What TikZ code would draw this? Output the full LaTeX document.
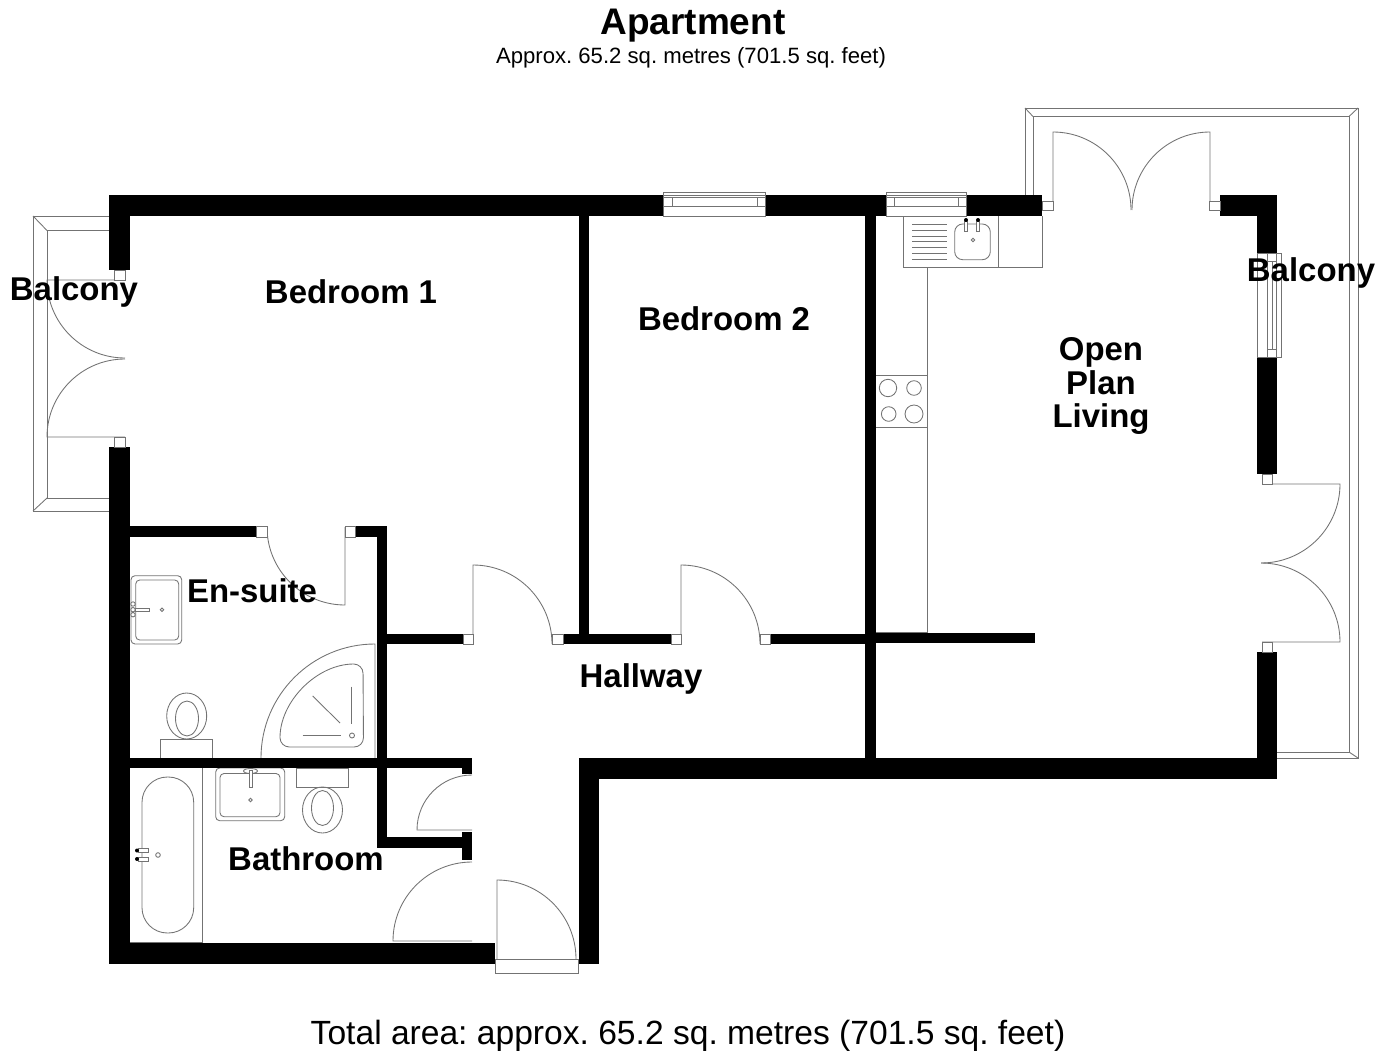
\documentclass[tikz,border=0pt]{standalone}
\usepackage{fontspec}
\setmainfont{Liberation Sans}
\tikzset{fpl/.style={
  x=0.75pt,
  y=-0.75pt
}}
\tikzset{wl/.style={
  fill=black
}}
\tikzset{fx/.style={
  draw=black!55,
  line width=0.65pt
}}
\tikzset{frm/.style={fx,fill=white}}
\tikzset{lbl/.style={
  font=\fontsize{24.7}{25}\bfseries\selectfont,
  align=center,
  inner sep=0pt
}}

\begin{document}
\frenchspacing
\begin{tikzpicture}[fpl]
    \useasboundingbox (0,0) rectangle (1378,1056);

    % Balconies
    \draw[fx] (109,216) -- (33,216) -- (33,511) -- (109,511);
    \draw[fx] (109,230.5) -- (47,230.5) -- (47,498) -- (109,498);
    \draw[fx] (33,216) -- (47,230.5) (33,511) -- (47,498);
    \draw[fx] (1025,195) -- (1025,108) -- (1358,108) -- (1358,758) -- (1277,758);
    \draw[fx] (1033,195) -- (1033,116.5) -- (1349,116.5) -- (1349,752) -- (1277,752);
    \draw[fx] (1025,108) -- (1033,116.5) (1358,108) -- (1349,116.5)
      (1358,758) -- (1349,752);

    % Door leaves and swings
    \draw[fx] (125,280) -- (47,280) arc (180:90:78);
    \draw[fx] (125,437) -- (47,437) arc (180:270:78);
    \draw[fx] (1053,210) -- (1053,132) arc (270:360:78);
    \draw[fx] (1210,210) -- (1210,132) arc (270:180:78);
    \draw[fx] (1262,484) -- (1340,484) arc (0:90:79);
    \draw[fx] (1262,642) -- (1340,642) arc (0:-90:79);
    \draw[fx] (473,640) -- (473,565) arc (270:360:79);
    \draw[fx] (681,640) -- (681,565) arc (270:360:79);
    \draw[fx] (345,527) -- (345,605) arc (90:180:78);
    \draw[fx] (472,830) -- (417,830) arc (180:270:55);
    \draw[fx] (472,941) -- (393,941) arc (180:270:79);
    \draw[fx] (497,959) -- (497,880) arc (270:360:79);

    % Kitchen units
    \draw[fx] (903,216) -- (903,267) -- (1042,267) -- (1042,216);
    \draw[fx] (998,216) -- (998,267);
    \draw[fx] (927,267) -- (927,632) -- (876,632);
    \draw[fx] (876,375) -- (927,375) (876,427) -- (927,427);
    \foreach \yy in {224,230,236,241.7,247.3,253.3,259.3}
      \draw[fx] (912,\yy) -- (946.7,\yy);
    \draw[fx,rounded corners=6pt] (954.7,224) rectangle (990.3,259.7);
    \draw[fx] (973,240) circle (1.7);
    \draw[frm] (964.5,221) rectangle (967.5,231);
    \draw[frm] (976.5,221) rectangle (979.5,231);
    \fill (966,220) circle (2) (978,220) circle (2);
    \draw[fx] (888,388) circle (8.7) (914,388) circle (7.3);
    \draw[fx] (888.7,414) circle (7.3) (914,414) circle (9);

    % Bathroom fittings
    \draw[fx] (130,942) -- (202.7,942) -- (202.7,768);
    \draw[fx,rounded corners=19pt] (142,777) rectangle (193.7,933);
    \draw[frm] (138,848.5) rectangle (148,852.5);
    \draw[frm] (138,857) rectangle (148,861);
    \fill (137,850.5) circle (2) (137,859) circle (2);
    \draw[fx] (158,855) circle (2.3);
    \draw[fx,rounded corners=3pt] (215.7,768) rectangle (284.7,820.7);
    \draw[fx,rounded corners=3pt] (220,773.5) rectangle (280,816.7);
    \draw[fx] (250.5,771) ellipse (7 and 2.5);
    \draw[frm] (249,770) rectangle (252.5,787);
    \draw[fx] (250.5,800) circle (1.7);
    \draw[fx] (296.7,768) rectangle (348.7,787.5);
    \draw[fx] (322.5,810) ellipse (20 and 23);
    \draw[fx] (322.5,808) ellipse (11 and 17.5);

    % En-suite fittings
    \draw[fx,rounded corners=3pt] (131,575.7) rectangle (181.7,644);
    \draw[fx,rounded corners=3pt] (135.7,580) rectangle (178.7,640);
    \draw[frm] (135,608) rectangle (149,611.5);
    \draw[frm] (133,604) circle (2.2) (133,609.7) circle (2.2) (133,614.7) circle (2.2);
    \draw[fx] (162,609.7) circle (1.7);
    \draw[fx] (160.7,739) rectangle (212.7,758);
    \draw[fx] (186.7,716) ellipse (20 and 23);
    \draw[fx] (187,718.5) ellipse (11.5 and 17.5);
    \draw[fx] (261,758) arc (180:270:114) -- (375,758);
    \draw[fx,rounded corners=7pt] (280,747) arc (180:270:83) -- (363.5,747) -- cycle;
    \draw[fx] (351.7,686.7) -- (351.7,724);
    \draw[fx] (312.7,696) -- (340,723);
    \draw[fx] (302.7,735.7) -- (340.7,735.7);
    \draw[fx] (352,735.5) circle (2.5);

    % Outer walls
    \fill[wl] (109,195) rectangle (1042,216);
    \fill[wl] (109,195) rectangle (130,270);
    \fill[wl] (109,447) rectangle (130,964);
    \fill[wl] (109,943) rectangle (495,964);
    \fill[wl] (579,758) rectangle (599,964);
    \fill[wl] (579,758) rectangle (1277,779);
    \fill[wl] (1220,195) rectangle (1277,216);
    \fill[wl] (1257,195) rectangle (1277,253);
    \fill[wl] (1257,357) rectangle (1277,474);
    \fill[wl] (1257,652) rectangle (1277,779);

    % Inner walls
    \fill[wl] (579,216) rectangle (589,634);
    \fill[wl] (865,216) rectangle (876,758);
    \fill[wl] (386,634) rectangle (463,644);
    \fill[wl] (563,634) rectangle (671,644);
    \fill[wl] (770,634) rectangle (865,644);
    \fill[wl] (876,633) rectangle (1035,643);
    \fill[wl] (130,526) rectangle (256,537);
    \fill[wl] (355,526) rectangle (387,537);
    \fill[wl] (377,526) rectangle (387,848);
    \fill[wl] (130,758) rectangle (472,768);
    \fill[wl] (462,758) rectangle (472,774);
    \fill[wl] (377,837) rectangle (462,848);
    \fill[wl] (462,832) rectangle (472,860);

    % Door frames
    \draw[frm] (1042,201) rectangle (1053,210);
    \draw[frm] (1209,201) rectangle (1220,210);
    \draw[frm] (114,270) rectangle (125,280);
    \draw[frm] (114,437) rectangle (125,447);
    \draw[frm] (1262,474) rectangle (1272,484);
    \draw[frm] (1262,642) rectangle (1272,652);
    \draw[frm] (256,526) rectangle (267,537);
    \draw[frm] (345,526) rectangle (355,537);
    \foreach \xa/\xb in {463/473,552/563,671/681,760/770}
      \draw[frm] (\xa,634) rectangle (\xb,644);
    \draw[frm] (495,959) rectangle (578,973);

    % Windows
    \draw[frm] (663,192) rectangle (765,216);
    \draw[fx] (663,195) -- (765,195);
    \draw[frm] (663,197) rectangle (672,206) (757,197) rectangle (765,206);
    \draw[frm] (672,197) rectangle (757,206);
    \draw[frm] (886,192) rectangle (966,216);
    \draw[fx] (886,195) -- (966,195);
    \draw[frm] (886,197) rectangle (894,206) (958,197) rectangle (966,206);
    \draw[frm] (894,197) rectangle (958,206);
    \draw[frm] (1257,253) rectangle (1281,357);
    \draw[frm] (1267,253) rectangle (1276,261) (1267,349) rectangle (1276,357);
    \draw[frm] (1267,261) rectangle (1276,349);
    \draw[fx] (1272,261) -- (1272,349);

    % Titles and room names
    \node[font=\fontsize{27.75}{28}\bfseries\selectfont] (ttl) at (693,26) {Apartment};
    \node[font=\fontsize{16.6}{17}\selectfont] (sub) at (691,58) {Approx. 65.2 sq. metres (701.5 sq. feet)};
    \node[font=\fontsize{25.2}{26}\selectfont] (tot) at (688,1036) {Total area: approx. 65.2 sq. metres (701.5 sq. feet)};
    \node[lbl] (bed1) at (351,292) {Bedroom 1};
    \node[lbl] (bed2) at (724,319) {Bedroom 2};
    \node[lbl] (opl) at (1101,386) {Open\\Plan\\Living};
    \node[lbl] (balw) at (74,292) {Balcony};
    \node[lbl] (bale) at (1311,273) {Balcony};
    \node[lbl] (ens) at (252,591) {En-suite};
    \node[lbl] (hall) at (641,679) {Hallway};
    \node[lbl] (bath) at (306,859) {Bathroom};
\end{tikzpicture}
\end{document}
